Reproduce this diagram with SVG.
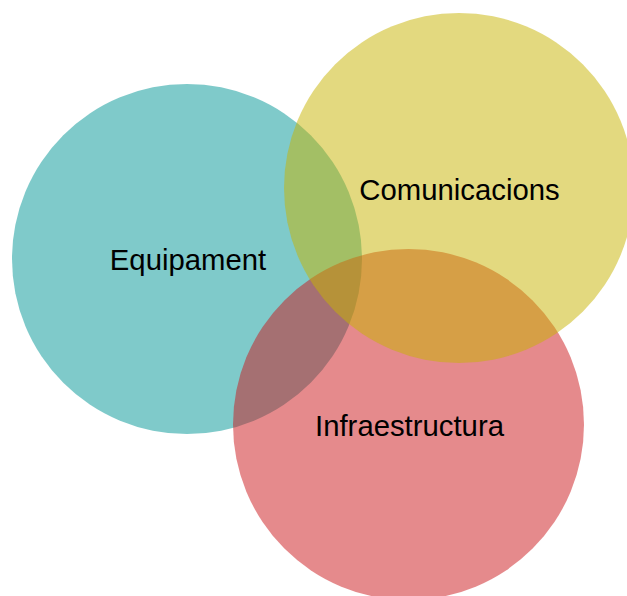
<svg xmlns="http://www.w3.org/2000/svg" width="627" height="596" viewBox="0 0 627 596">
<style>
.c{fill-opacity:0.5;stroke:none}
.t{font-family:"Liberation Sans",Arial,sans-serif;font-size:29.3px;fill:#000;text-anchor:middle}
</style>
<rect width="627" height="596" fill="#ffffff"/>
<g id="equipament">
<circle class="c" cx="187" cy="259" r="175" fill="#009696"/>
</g>
<g id="infraestructura">
<circle class="c" cx="408.5" cy="424.5" r="175.5" fill="#cc151a"/>
</g>
<g id="comunicacions">
<circle class="c" cx="459" cy="188" r="175" fill="#c8b400"/>
</g>
<g id="labels">
<text class="t" x="188" y="270">Equipament</text>
<text class="t" x="459.5" y="200">Comunicacions</text>
<text class="t" x="409.5" y="436">Infraestructura</text>
</g>
</svg>
